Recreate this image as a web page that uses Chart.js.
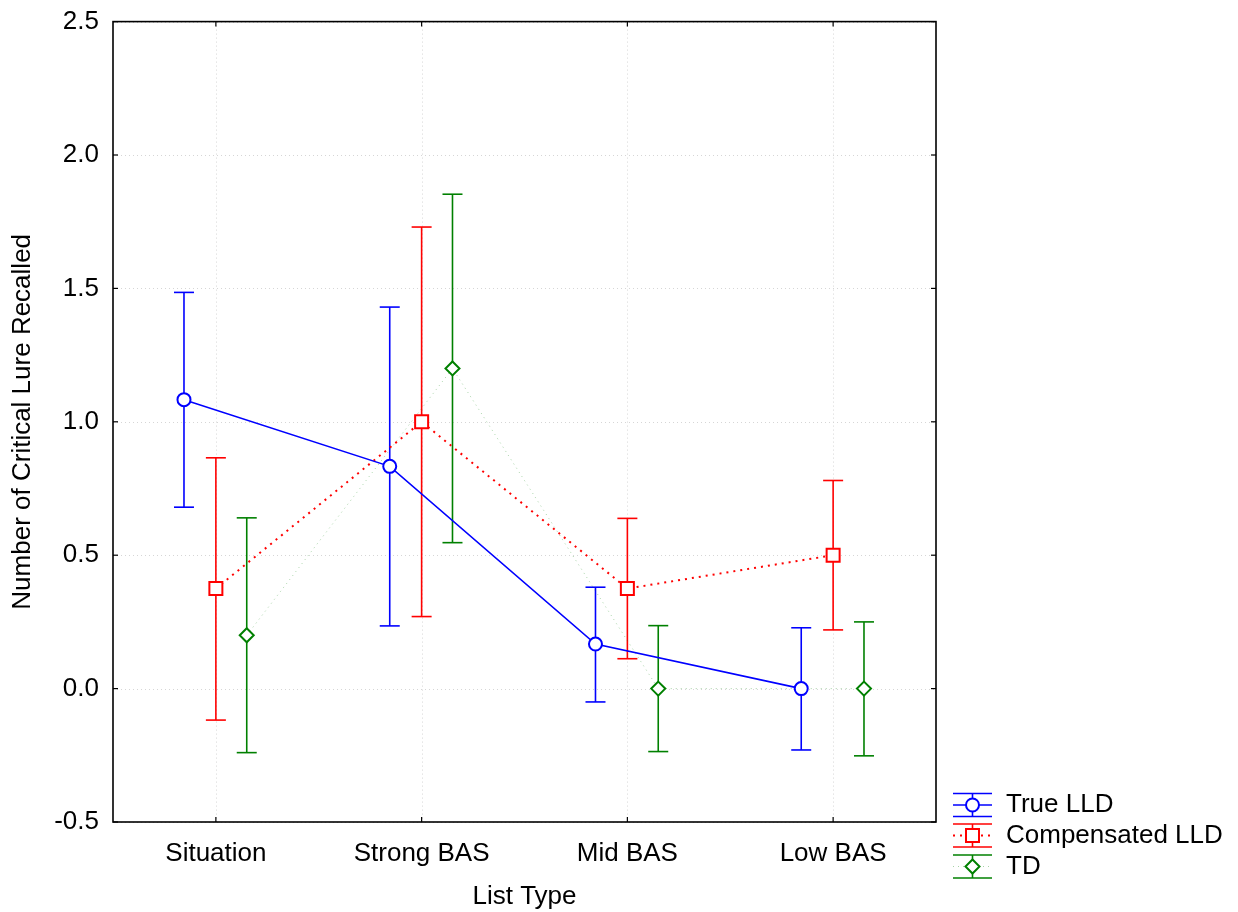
<!DOCTYPE html>
<html>
<head>
<meta charset="utf-8">
<script src="https://cdn.jsdelivr.net/npm/chart.js@4"></script>
<style>
  html, body { margin: 0; padding: 0; background: #fff; }
  #wrap { width: 1238px; height: 912px; }
</style>
</head>
<body>
<div id="wrap"><canvas id="myChart"></canvas></div>
<script>
const listTypes = ["Situation", "Strong BAS", "Mid BAS", "Low BAS"];
const yTicks = [-0.5, 0, 0.5, 1, 1.5, 2, 2.5];

// means and error bar ends
const trueMean = [1.083, 0.833, 0.167, 0.0];
const trueLow = [0.68, 0.235, -0.05, -0.23];
const trueHigh = [1.485, 1.43, 0.38, 0.228];

const compMean = [0.375, 1.0, 0.375, 0.5];
const compLow = [-0.118, 0.27, 0.112, 0.22];
const compHigh = [0.865, 1.73, 0.638, 0.78];

const tdMean = [0.2, 1.2, 0.0, 0.0];
const tdLow = [-0.24, 0.547, -0.236, -0.252];
const tdHigh = [0.64, 1.853, 0.236, 0.25];

const FONT = "'Liberation Sans', Arial, sans-serif";

function points(means, shift) {
  return means.map((m, i) => ({ x: i + 0.5 + shift, y: m }));
}

function marker(ctx, style, x, y, color) {
  ctx.save();
  ctx.setLineDash([]);
  ctx.strokeStyle = color;
  ctx.fillStyle = "#fff";
  ctx.lineWidth = 2;
  ctx.beginPath();
  if (style === "circle") {
    ctx.arc(x, y, 6.5, 0, Math.PI * 2);
  } else if (style === "rect") {
    ctx.rect(x - 6.5, y - 6.5, 13, 13);
  } else {
    ctx.moveTo(x, y - 7);
    ctx.lineTo(x + 7, y);
    ctx.lineTo(x, y + 7);
    ctx.lineTo(x - 7, y);
    ctx.closePath();
  }
  ctx.fill();
  ctx.stroke();
  ctx.restore();
}

function seg(ctx, x1, y1, x2, y2) {
  ctx.beginPath();
  ctx.moveTo(x1, y1);
  ctx.lineTo(x2, y2);
  ctx.stroke();
}

const frame = {
  id: "frame",
  beforeDatasetsDraw(chart) {
    const { ctx, chartArea: a, scales: { x, y } } = chart;
    ctx.save();
    // faint dotted grid
    ctx.strokeStyle = "#d6d6d6";
    ctx.lineWidth = 1;
    ctx.setLineDash([1, 3]);
    yTicks.forEach(v => {
      const py = Math.round(y.getPixelForValue(v)) + 0.5;
      seg(ctx, a.left, py, a.right, py);
    });
    listTypes.forEach((c, i) => {
      const px = Math.round(x.getPixelForValue(i + 0.5)) + 0.5;
      seg(ctx, px, a.top, px, a.bottom);
    });
    ctx.setLineDash([]);
    // error bars
    chart.data.datasets.forEach(ds => {
      ctx.strokeStyle = ds.barColor;
      ctx.lineWidth = 1.6;
      ds.data.forEach((p, i) => {
        const px = x.getPixelForValue(p.x);
        const top = y.getPixelForValue(ds.errHigh[i]);
        const bot = y.getPixelForValue(ds.errLow[i]);
        seg(ctx, px, top, px, bot);
        seg(ctx, px - 10, top, px + 10, top);
        seg(ctx, px - 10, bot, px + 10, bot);
      });
    });
    ctx.restore();
  },
  afterDatasetsDraw(chart) {
    const { ctx, scales: { x, y } } = chart;
    chart.data.datasets.forEach(ds => {
      ds.data.forEach(p => {
        marker(ctx, ds.markStyle, x.getPixelForValue(p.x), y.getPixelForValue(p.y), ds.barColor);
      });
    });
  },
  afterDraw(chart) {
    const { ctx, chartArea: a, scales: { x, y } } = chart;
    ctx.save();
    // frame and inward ticks
    ctx.strokeStyle = "#000";
    ctx.lineWidth = 1.6;
    ctx.strokeRect(a.left, a.top, a.right - a.left, a.bottom - a.top);
    ctx.lineWidth = 1.2;
    yTicks.forEach(v => {
      const py = y.getPixelForValue(v);
      seg(ctx, a.left, py, a.left + 5, py);
      seg(ctx, a.right, py, a.right - 5, py);
    });
    listTypes.forEach((c, i) => {
      const px = x.getPixelForValue(i + 0.5);
      seg(ctx, px, a.bottom, px, a.bottom - 5);
      seg(ctx, px, a.top, px, a.top + 5);
    });

    // legend
    const lx = 953, rx = 992, cx = 972.5;
    const rows = [805, 835.5, 866.5];
    chart.data.datasets.forEach((ds, k) => {
      const cy = rows[k];
      ctx.strokeStyle = ds.barColor;
      ctx.lineWidth = 1.6;
      ctx.setLineDash([]);
      seg(ctx, lx, cy - 11.5, rx, cy - 11.5);
      seg(ctx, lx, cy + 11.5, rx, cy + 11.5);
      seg(ctx, cx, cy - 11.5, cx, cy + 11.5);
      ctx.strokeStyle = ds.borderColor;
      ctx.lineWidth = ds.borderWidth;
      ctx.setLineDash(ds.borderDash || []);
      seg(ctx, lx, cy, rx, cy);
      ctx.setLineDash([]);
      marker(ctx, ds.markStyle, cx, cy, ds.barColor);
      ctx.fillStyle = "#000";
      ctx.font = "26px " + FONT;
      ctx.textBaseline = "middle";
      ctx.textAlign = "left";
      ctx.fillText(ds.label, 1006, cy);
    });
    ctx.restore();
  }
};

const config = {
  type: "line",
  data: {
    datasets: [
      {
        label: "True LLD",
        data: points(trueMean, -0.155),
        errLow: trueLow,
        errHigh: trueHigh,
        barColor: "#0000ff",
        markStyle: "circle",
        borderColor: "#0000ff",
        borderWidth: 1.6,
        pointRadius: 0,
        tension: 0,
        fill: false,
      },
      {
        label: "Compensated LLD",
        data: points(compMean, 0),
        errLow: compLow,
        errHigh: compHigh,
        barColor: "#ff0000",
        markStyle: "rect",
        borderColor: "#ff0000",
        borderWidth: 2,
        borderDash: [2, 5],
        pointRadius: 0,
        tension: 0,
        fill: false,
      },
      {
        label: "TD",
        data: points(tdMean, 0.15),
        errLow: tdLow,
        errHigh: tdHigh,
        barColor: "#008000",
        markStyle: "diamond",
        borderColor: "rgba(0,128,0,0.35)",
        borderWidth: 1,
        borderDash: [1, 4],
        pointRadius: 0,
        tension: 0,
        fill: false,
      },
    ],
  },
  options: {
    animation: false,
    responsive: true,
    maintainAspectRatio: false,
    layout: { padding: { left: 0, right: 302, top: 13, bottom: 0 } },
    plugins: {
      legend: { display: false },
      tooltip: { enabled: false },
    },
    scales: {
      x: {
        type: "linear",
        min: 0,
        max: 4,
        afterBuildTicks: s => { s.ticks = listTypes.map((c, i) => ({ value: i + 0.5 })); },
        afterFit: s => { s.height = 90; },
        ticks: {
          autoSkip: false,
          maxRotation: 0,
          padding: 8,
          color: "#000",
          font: { family: FONT, size: 26 },
          callback: v => listTypes[Math.round(v - 0.5)],
        },
        grid: { display: false },
        border: { display: false },
        title: {
          display: true,
          text: "List Type",
          color: "#000",
          font: { family: FONT, size: 26 },
          padding: { top: 0, bottom: 0 },
        },
      },
      y: {
        min: -0.5,
        max: 2.5,
        afterBuildTicks: s => { s.ticks = yTicks.map(v => ({ value: v })); },
        afterFit: s => { s.width = 113; },
        ticks: {
          padding: 6,
          color: "#000",
          font: { family: FONT, size: 26 },
          callback: v => v.toFixed(1),
        },
        grid: { display: false },
        border: { display: false },
        title: {
          display: true,
          text: "Number of Critical Lure Recalled",
          color: "#000",
          font: { family: FONT, size: 26 },
          padding: { top: 7, bottom: 0 },
        },
      },
    },
  },
  plugins: [frame],
};

const myChart = new Chart(document.getElementById("myChart"), config);
</script>
</body>
</html>
